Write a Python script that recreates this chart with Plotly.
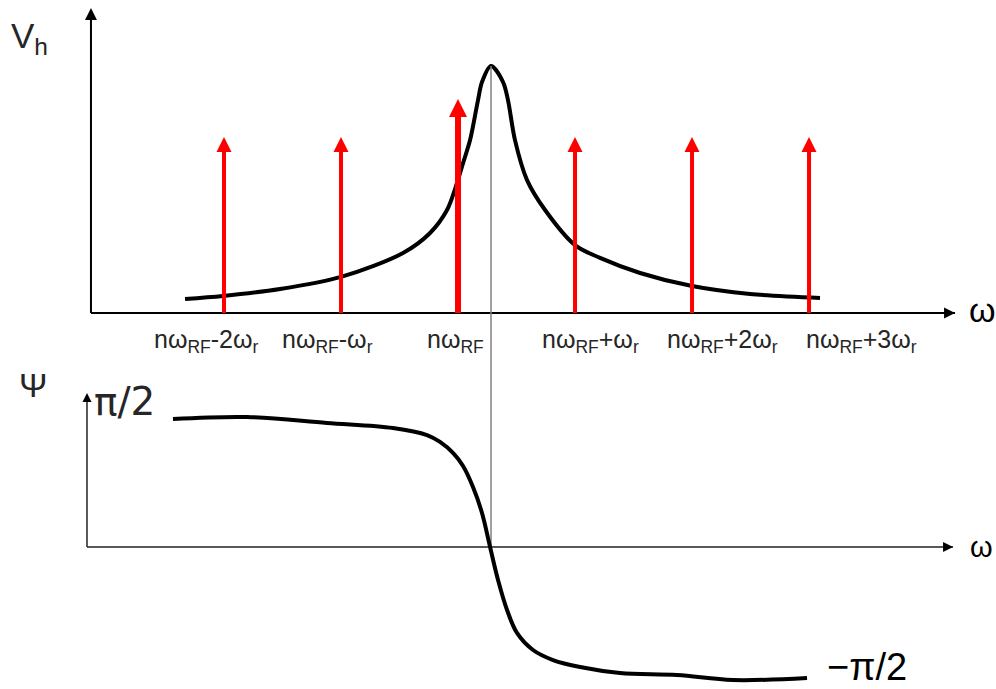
import plotly.graph_objects as go

# ---------------- data (ω in units of ω_r, relative to nω_RF) ----------------
W_SIDEBANDS = [-2, -1, 0, 1, 2, 3]
SIDEBAND_LABELS = [
    "nω<sub>RF</sub>-2ω<sub>r</sub>",
    "nω<sub>RF</sub>-ω<sub>r</sub>",
    "nω<sub>RF</sub>",
    "nω<sub>RF</sub>+ω<sub>r</sub>",
    "nω<sub>RF</sub>+2ω<sub>r</sub>",
    "nω<sub>RF</sub>+3ω<sub>r</sub>",
]
SIDEBAND_AMPL = [0.713, 0.713, 0.866, 0.713, 0.713, 0.713]

W_RES = 0.282  # resonant frequency

VH_W = [-2.333, -2.009, -1.521, -1.0, -0.470, -0.239, -0.094, -0.017, 0.043, 0.103,
        0.171, 0.205, 0.282, 0.385, 0.427, 0.487, 0.590, 0.744, 1.0,
        1.214, 1.556, 2.0, 2.496, 3.094]
VH = [0.057, 0.069, 0.097, 0.146, 0.243, 0.324, 0.417, 0.514, 0.607, 0.700,
      0.862, 0.935, 1.0, 0.935, 0.862, 0.700, 0.538, 0.417, 0.275,
      0.223, 0.162, 0.109, 0.077, 0.061]

PSI_W = [-2.436, -1.803, -1.120, -0.556, -0.265, -0.154, -0.043, 0.043, 0.128, 0.205,
         0.274, 0.342, 0.419, 0.504, 0.641, 0.812, 1.043, 1.385, 1.872, 2.350, 2.983]
PSI = [1.571, 1.595, 1.522, 1.460, 1.374, 1.289, 1.154, 0.994, 0.736, 0.417,
       0.0, -0.405, -0.773, -1.055, -1.264, -1.387, -1.473, -1.546, -1.571, -1.632, -1.608]

# ---------------- axes geometry ----------------
X_RANGE = [-3.9145, 4.598]
VH_RANGE = [-1.5223, 1.2672]
PSI_RANGE = [-1.7426, 6.7125]

TOP_AX_X = [-3.137, 4.248]
TOP_AX_YMAX = 1.235
BOT_AX_X = [-3.171, 4.231]
BOT_AX_YMAX = 1.890

W, H = 996, 689
def px(x):
    return x / W
def py(y):
    return 1 - y / H

fig = go.Figure()

# vertical guide line through resonance (from peak down to Ψ = 0)
peak_frac = (max(VH) - VH_RANGE[0]) / (VH_RANGE[1] - VH_RANGE[0])
peak_in_psi = PSI_RANGE[0] + peak_frac * (PSI_RANGE[1] - PSI_RANGE[0])
fig.add_trace(go.Scatter(x=[W_RES, W_RES], y=[0, peak_in_psi], yaxis="y2",
                         mode="lines", line=dict(color="#808080", width=1.5),
                         hoverinfo="skip", showlegend=False))

# axis lines (top)
fig.add_trace(go.Scatter(x=[TOP_AX_X[0], TOP_AX_X[1]], y=[0, 0], mode="lines",
                         line=dict(color="black", width=2), showlegend=False, hoverinfo="skip"))
fig.add_trace(go.Scatter(x=[TOP_AX_X[0], TOP_AX_X[0]], y=[0, TOP_AX_YMAX - 0.02], mode="lines",
                         line=dict(color="black", width=2), showlegend=False, hoverinfo="skip"))
fig.add_trace(go.Scatter(x=[TOP_AX_X[0]], y=[TOP_AX_YMAX], mode="markers",
                         marker=dict(symbol="arrow-up", size=12, color="black"),
                         showlegend=False, hoverinfo="skip"))
fig.add_trace(go.Scatter(x=[TOP_AX_X[1]], y=[0], mode="markers",
                         marker=dict(symbol="arrow-right", size=11, color="black"),
                         showlegend=False, hoverinfo="skip"))

# axis lines (bottom)
fig.add_trace(go.Scatter(x=[BOT_AX_X[0], BOT_AX_X[1]], y=[0, 0], yaxis="y2", mode="lines",
                         line=dict(color="#222", width=1.5), showlegend=False, hoverinfo="skip"))
fig.add_trace(go.Scatter(x=[BOT_AX_X[0], BOT_AX_X[0]], y=[0, BOT_AX_YMAX - 0.05], yaxis="y2",
                         mode="lines", line=dict(color="#222", width=1.5),
                         showlegend=False, hoverinfo="skip"))
fig.add_trace(go.Scatter(x=[BOT_AX_X[0]], y=[BOT_AX_YMAX], yaxis="y2", mode="markers",
                         marker=dict(symbol="arrow-up", size=9, color="black"),
                         showlegend=False, hoverinfo="skip"))
fig.add_trace(go.Scatter(x=[BOT_AX_X[1]], y=[0], yaxis="y2", mode="markers",
                         marker=dict(symbol="arrow-right", size=10, color="black"),
                         showlegend=False, hoverinfo="skip"))

# impedance curve
fig.add_trace(go.Scatter(x=VH_W, y=VH, mode="lines",
                         line=dict(color="black", width=4, shape="spline", smoothing=0.9),
                         showlegend=False, hoverinfo="skip"))
# phase curve
fig.add_trace(go.Scatter(x=PSI_W, y=PSI, yaxis="y2", mode="lines",
                         line=dict(color="black", width=4, shape="spline", smoothing=1.0),
                         showlegend=False, hoverinfo="skip"))

# spectral lines (red arrows)
for w, a in zip(W_SIDEBANDS, SIDEBAND_AMPL):
    main = (w == 0)
    head = 18 if main else 15
    fig.add_trace(go.Scatter(x=[w, w], y=[0, a - 0.03], mode="lines",
                             line=dict(color="#ff0000", width=6 if main else 4),
                             showlegend=False, hoverinfo="skip"))
    fig.add_trace(go.Scatter(x=[w], y=[a], mode="markers",
                             marker=dict(symbol="arrow-up", size=head, color="#ff0000"),
                             showlegend=False, hoverinfo="skip"))

# ---------------- text ----------------
FONT = "Liberation Sans, Arial"
LABEL_SHIFT = [-18, -14, -3, 15, 30, 52]
ann = []
for w, lab, s in zip(W_SIDEBANDS, SIDEBAND_LABELS, LABEL_SHIFT):
    ann.append(dict(x=w, y=0, xref="x", yref="y", text=lab, showarrow=False,
                    xanchor="center", yanchor="middle", xshift=s, yshift=-28,
                    font=dict(family=FONT, size=25, color="#262626")))

ann += [
    dict(x=px(9), y=py(14), xref="paper", yref="paper", text="V<sub>h</sub>",
         showarrow=False, xanchor="left", yanchor="top",
         font=dict(family=FONT, size=35, color="#262626")),
    dict(x=px(33), y=py(385), xref="paper", yref="paper", text="Ψ",
         showarrow=False, xanchor="center", yanchor="middle",
         font=dict(family=FONT, size=34, color="#262626")),
    dict(x=px(92), y=py(401), xref="paper", yref="paper", text="π/2",
         showarrow=False, xanchor="left", yanchor="middle",
         font=dict(family="DejaVu Sans", size=39, color="#262626")),
    dict(x=px(825), y=py(667), xref="paper", yref="paper", text="−π/2",
         showarrow=False, xanchor="left", yanchor="middle",
         font=dict(family=FONT, size=38, color="black")),
    dict(x=px(967), y=py(310), xref="paper", yref="paper", text="ω",
         showarrow=False, xanchor="left", yanchor="middle",
         font=dict(family=FONT, size=34, color="black")),
    dict(x=px(968), y=py(547), xref="paper", yref="paper", text="ω",
         showarrow=False, xanchor="left", yanchor="middle",
         font=dict(family=FONT, size=29, color="black")),
]

fig.update_layout(
    width=W, height=H,
    margin=dict(l=0, r=0, t=0, b=0, pad=0),
    paper_bgcolor="white", plot_bgcolor="white",
    showlegend=False,
    xaxis=dict(range=X_RANGE, visible=False, fixedrange=True, domain=[0, 1]),
    yaxis=dict(range=VH_RANGE, visible=False, fixedrange=True, domain=[0, 1]),
    yaxis2=dict(range=PSI_RANGE, visible=False, fixedrange=True, overlaying="y"),
    annotations=ann,
)

fig.write_html("out.html")
